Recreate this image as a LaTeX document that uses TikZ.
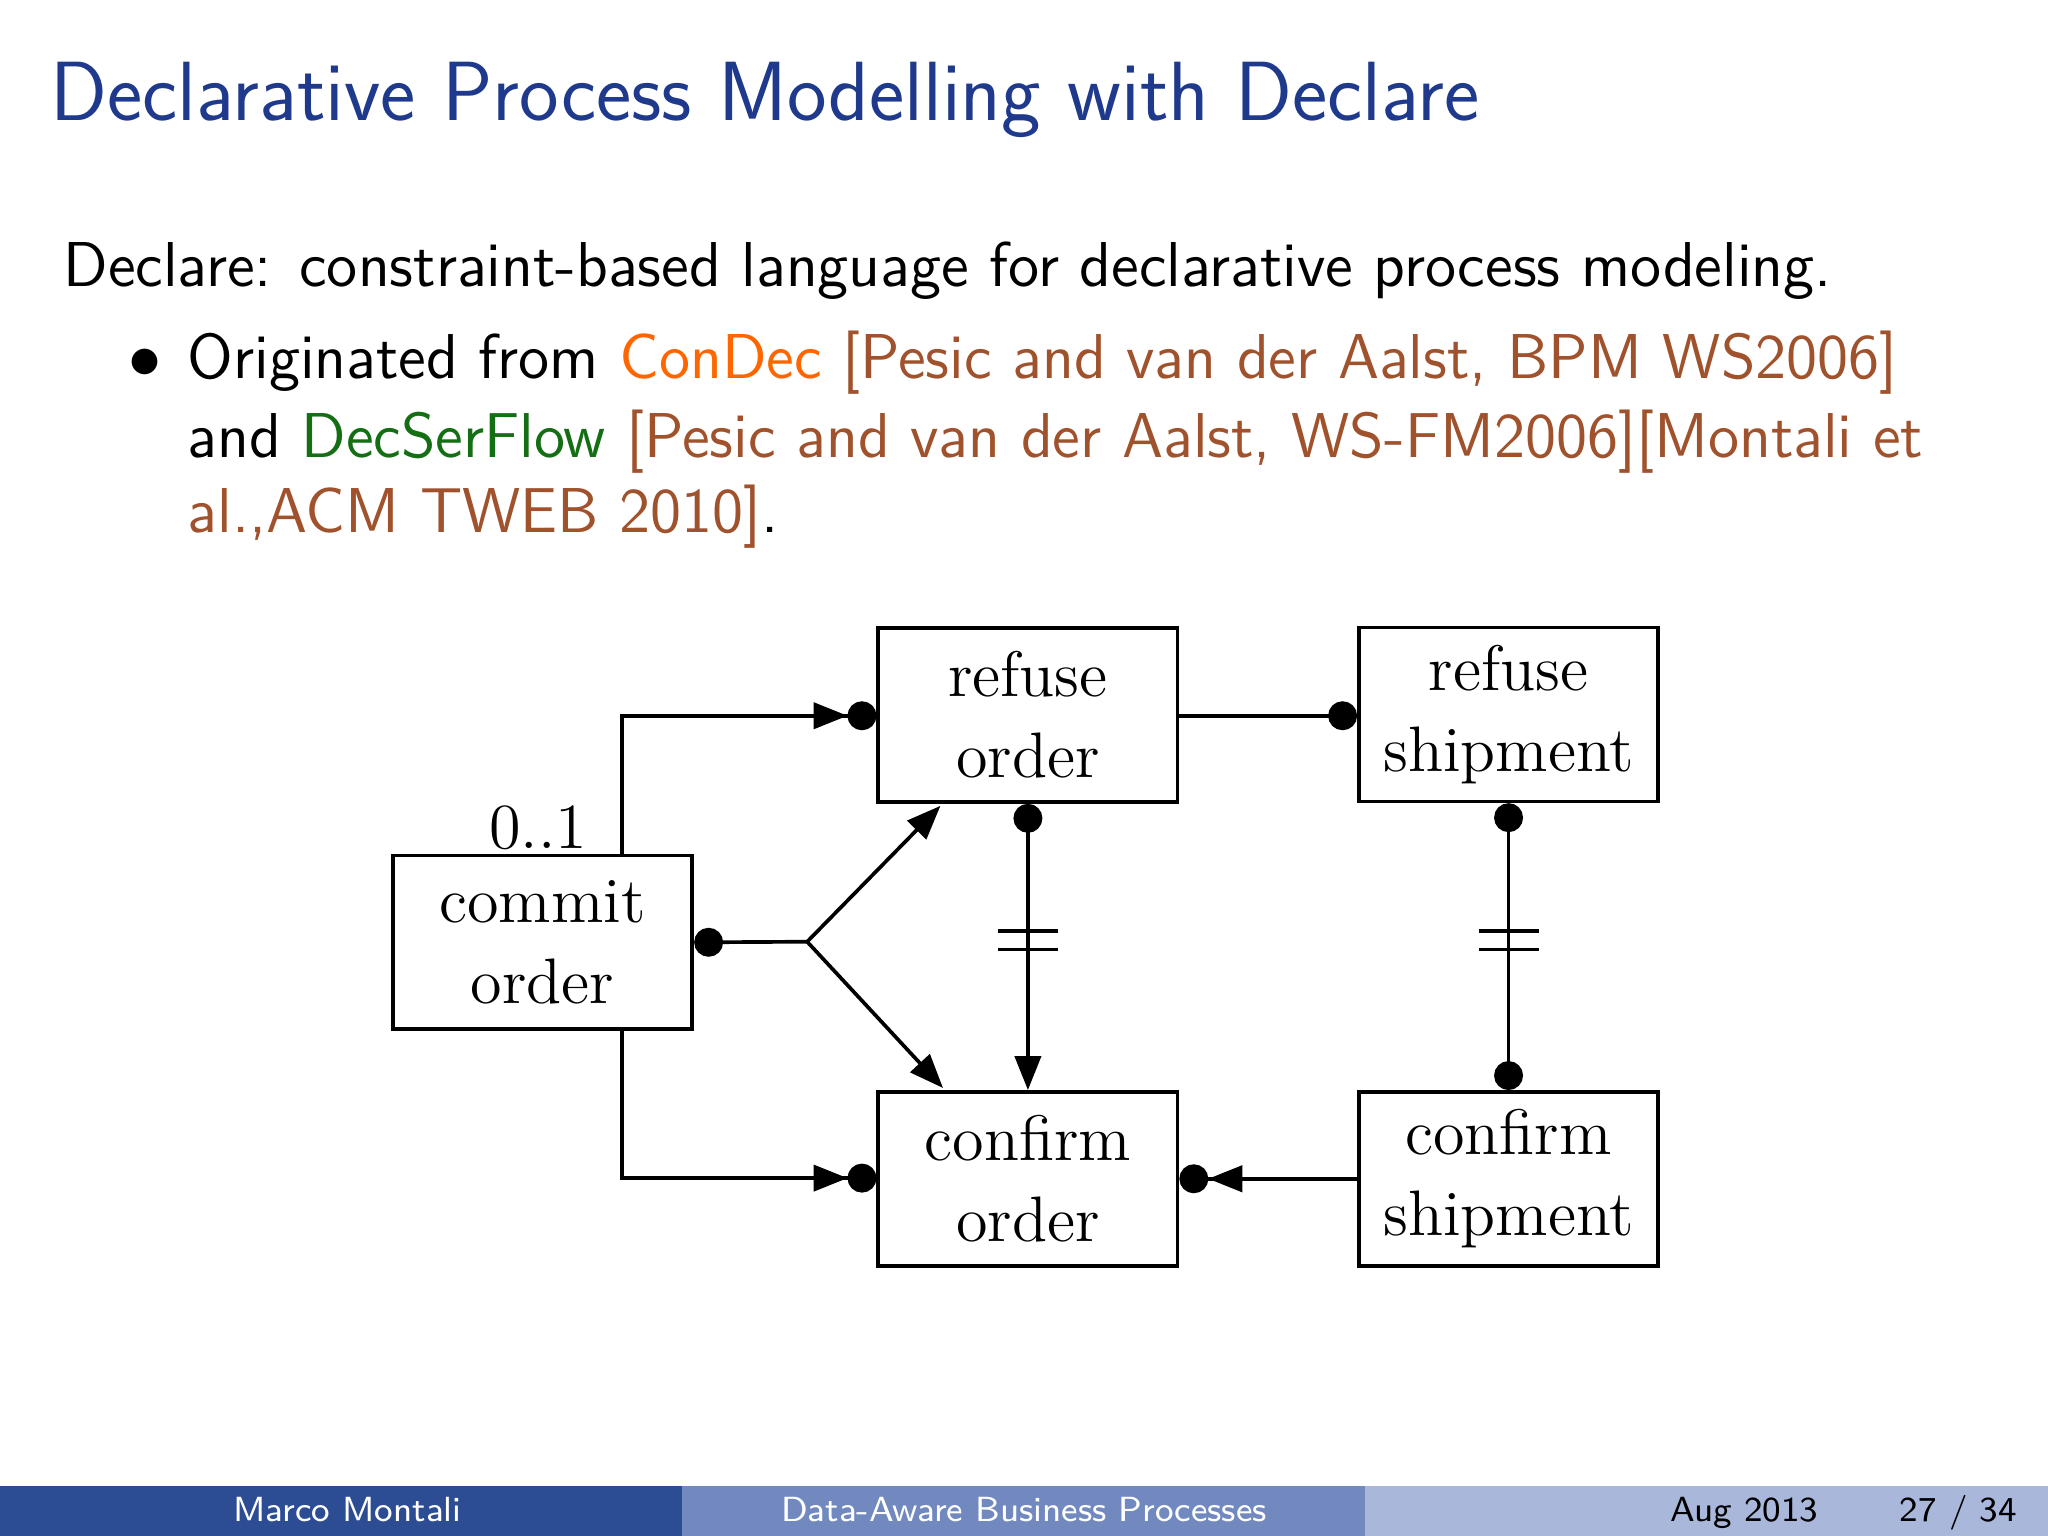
\documentclass[tikz,border=0pt]{standalone}
\usetikzlibrary{arrows.meta,calc}
\definecolor{titleblue}{RGB}{31,58,140}
\definecolor{fa}{RGB}{44,76,148}
\definecolor{fb}{RGB}{113,137,191}
\definecolor{fc}{RGB}{169,184,218}
\definecolor{cond}{RGB}{255,102,0}
\definecolor{decs}{RGB}{20,110,20}
\definecolor{cite}{RGB}{160,82,45}
\tikzset{
 act/.style={draw,thick,minimum width=229*0.2845pt,minimum height=133*0.2845pt,align=center,font=\fontsize{14}{17.6}\selectfont},
 con/.style={thick},
 tri/.style={-{Triangle[length=7.4pt,width=5.7pt]}},
 tridot/.style={-{Triangle[length=7.4pt,width=5.7pt] Circle[length=6.3pt]}},
 dotend/.style={-{Circle[length=6.3pt]}},
 body/.style={anchor=base west,inner sep=0pt,font=\sffamily\fontsize{13.8}{17}\selectfont},
 foot/.style={anchor=base,inner sep=0pt,font=\sffamily\fontsize{7.6}{9}\selectfont,text=white}
}
\begin{document}
\begin{tikzpicture}[x=0.01cm,y=-0.01cm]
\useasboundingbox (0,0) rectangle (1568,1176);
\node[anchor=base west,inner sep=0pt,text=titleblue,font=\sffamily\fontsize{18.3}{22}\selectfont] (title) at (38,92) {Declarative Process Modelling with Declare};
\node[body] (l1) at (48,219) {Declare: constraint-based language for declarative process modeling.};
\node[body] (bul) at (98,290) {$\bullet$};
\node[body] (l2) at (143,290) {Originated from \textcolor{cond}{ConDec} \textcolor{cite}{[Pesic and van der Aalst, BPM WS2006]}};
\node[body] (l3) at (143,350) {and \textcolor{decs}{DecSerFlow} \textcolor{cite}{[Pesic and van der Aalst, WS-FM2006][Montali et}};
\node[body] (l4) at (143,408) {\textcolor{cite}{al.,ACM TWEB 2010]}.};

\node[act] (co) at (415.5,721.5) {commit\\order};
\node[act] (ro) at (787,547.5) {refuse\\order};
\node[act] (rs) at (1155,547) {refuse\\shipment};
\node[act] (cfo) at (787,902.5) {confirm\\order};
\node[act] (cs) at (1155,902.5) {confirm\\shipment};
\node[inner sep=0pt,font=\fontsize{14}{16}\selectfont] (lab) at (412,634) {0..1};

\draw[con,tridot] (co.north -| 476,0) -- (476,548) -- (ro.west |- 0,548);
\draw[con,tridot] (co.south -| 476,0) -- (476,902) -- (cfo.west |- 0,902);
\coordinate (br) at (618,721);
\draw[con,{Circle[length=6.3pt]}-] (co.east) -- (br);
\draw[con,tri] (br) -- (720,617);
\draw[con,tri] (br) -- (722,833);
\draw[con,dotend] (ro.east |- 0,548) -- (rs.west |- 0,548);
\draw[con,{Circle[length=6.3pt]}-{Triangle[length=7.4pt,width=5.7pt]}] (ro.south) -- (cfo.north);
\draw[con,{Circle[length=6.3pt]}-{Circle[length=6.3pt]}] (rs.south) -- (cs.north);
\draw[con,tridot] (cs.west) -- (cfo.east);
\foreach \x in {787,1155}{
 \draw[con] (\x-23,713) -- (\x+23,713);
 \draw[con] (\x-23,727) -- (\x+23,727);
}

\fill[fa] (0,1138) rectangle (522,1176);
\fill[fb] (522,1138) rectangle (1045,1176);
\fill[fc] (1045,1138) rectangle (1568,1176);
\node[foot] (f1) at (266,1165) {Marco Montali};
\node[foot] (f2) at (784,1165) {Data-Aware Business Processes};
\node[foot,text=black,anchor=base east] (f3) at (1393,1165) {Aug 2013};
\node[foot,text=black,anchor=base east] (f4) at (1545,1165) {27 / 34};
\end{tikzpicture}
\end{document}
